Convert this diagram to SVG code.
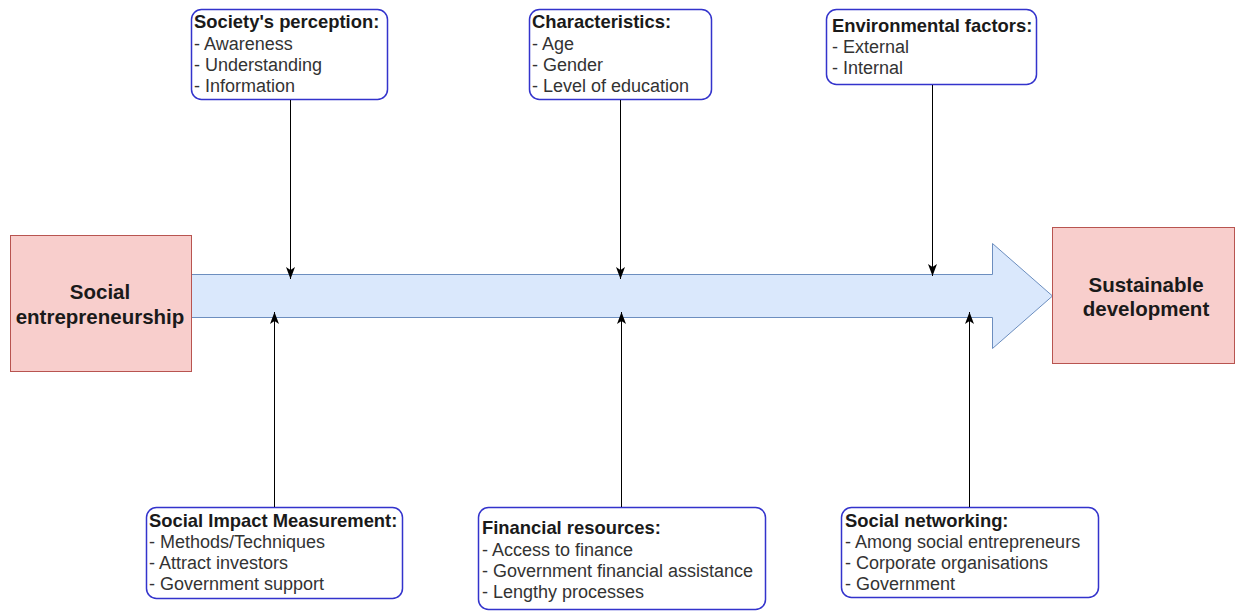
<svg xmlns="http://www.w3.org/2000/svg" width="1239" height="611" viewBox="0 0 1239 611">
<style>
.main{fill:#f8cecc;stroke:#b85450;stroke-width:1}
.card{fill:#fff;stroke:#3333cc;stroke-width:1.5}
.t{font-family:"Liberation Sans",Arial,sans-serif;font-size:18px;fill:#333}
.b{font-weight:bold;font-size:18.4px;fill:#1a1a1a}
.big{font-family:"Liberation Sans",Arial,sans-serif;font-size:20.5px;font-weight:bold;fill:#1a1a1a;text-anchor:middle}
.con{stroke:#000;stroke-width:1;fill:none}
</style>
<defs>
<marker id="ah" viewBox="0 0 12 10" refX="12" refY="5" markerWidth="12" markerHeight="10" markerUnits="userSpaceOnUse" orient="auto">
<path d="M0,0.5 L12,5 L0,9.5 L3,5 Z" fill="#000"/>
</marker>
</defs>
<rect width="1239" height="611" fill="#fff"/>
<g id="flow-arrow">
<path d="M191.5,274.5 L992.5,274.5 L992.5,243.5 L1052.5,296 L992.5,348.5 L992.5,317.5 L191.5,317.5 Z" fill="#dae8fc" stroke="#6c8ebf" stroke-width="1"/>
</g>
<g id="social-entrepreneurship">
<rect class="main" x="10.5" y="235.5" width="181" height="136"/>
<text class="big" x="100" y="299">Social</text>
<text class="big" x="100" y="324">entrepreneurship</text>
</g>
<g id="sustainable-development">
<rect class="main" x="1052.5" y="227.5" width="182" height="136"/>
<text class="big" x="1146" y="292">Sustainable</text>
<text class="big" x="1146" y="316">development</text>
</g>
<g id="society-perception">
<rect class="card" x="191.5" y="9.5" width="196" height="90" rx="10"/>
<text class="t b" x="194" y="28">Society's perception:</text>
<text class="t" x="194" y="50">- Awareness</text>
<text class="t" x="194" y="71">- Understanding</text>
<text class="t" x="194" y="92">- Information</text>
</g>
<g id="characteristics">
<rect class="card" x="529.5" y="9.5" width="182" height="90" rx="10"/>
<text class="t b" x="532" y="28">Characteristics:</text>
<text class="t" x="532" y="50">- Age</text>
<text class="t" x="532" y="71">- Gender</text>
<text class="t" x="532" y="92">- Level of education</text>
</g>
<g id="environmental-factors">
<rect class="card" x="826.5" y="9.5" width="210" height="75" rx="10"/>
<text class="t b" x="832" y="32">Environmental factors:</text>
<text class="t" x="832" y="53">- External</text>
<text class="t" x="832" y="74">- Internal</text>
</g>
<g id="social-impact">
<rect class="card" x="146.5" y="507.5" width="256" height="91" rx="10"/>
<text class="t b" x="149" y="527">Social Impact Measurement:</text>
<text class="t" x="149" y="548">- Methods/Techniques</text>
<text class="t" x="149" y="569">- Attract investors</text>
<text class="t" x="149" y="590">- Government support</text>
</g>
<g id="financial-resources">
<rect class="card" x="478.5" y="507.5" width="287" height="102" rx="10"/>
<text class="t b" x="482" y="534">Financial resources:</text>
<text class="t" x="482" y="556">- Access to finance</text>
<text class="t" x="482" y="577">- Government financial assistance</text>
<text class="t" x="482" y="598">- Lengthy processes</text>
</g>
<g id="social-networking">
<rect class="card" x="841.5" y="507.5" width="257" height="90" rx="10"/>
<text class="t b" x="845" y="527">Social networking:</text>
<text class="t" x="845" y="548">- Among social entrepreneurs</text>
<text class="t" x="845" y="569">- Corporate organisations</text>
<text class="t" x="845" y="590">- Government</text>
</g>
<g id="connectors">
<line class="con" x1="290.5" y1="100" x2="290.5" y2="279" marker-end="url(#ah)"/>
<line class="con" x1="620.5" y1="100" x2="620.5" y2="279" marker-end="url(#ah)"/>
<line class="con" x1="932.5" y1="85" x2="932.5" y2="276" marker-end="url(#ah)"/>
<line class="con" x1="274.5" y1="507" x2="274.5" y2="312" marker-end="url(#ah)"/>
<line class="con" x1="621.5" y1="507" x2="621.5" y2="312" marker-end="url(#ah)"/>
<line class="con" x1="969.5" y1="507" x2="969.5" y2="312" marker-end="url(#ah)"/>
</g>
</svg>
